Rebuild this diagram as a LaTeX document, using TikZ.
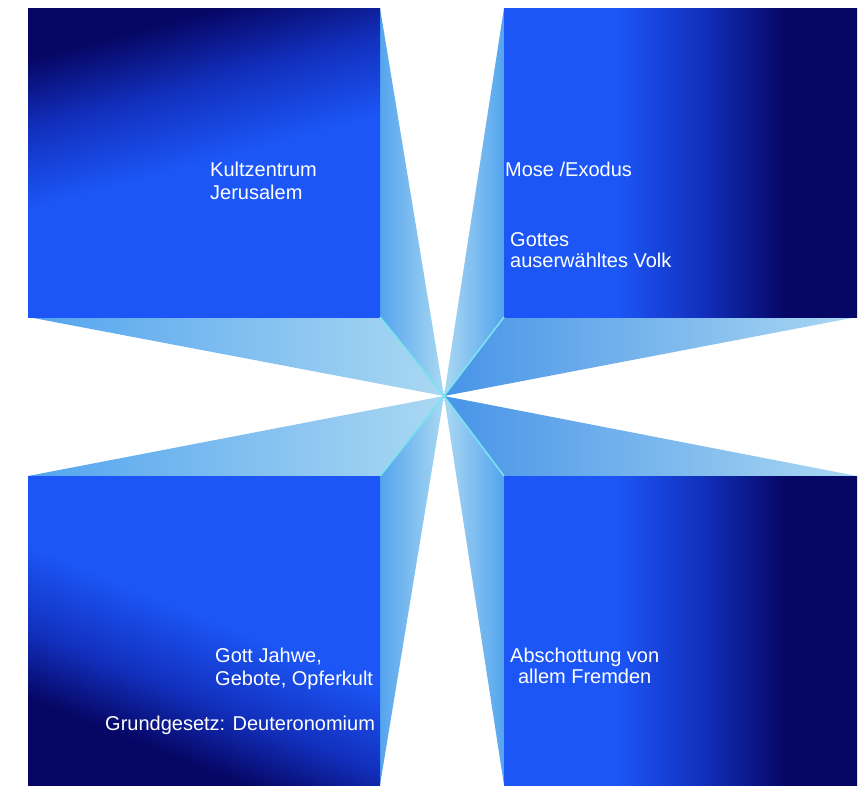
\documentclass[tikz,border=0pt]{standalone}
\usepackage{fontspec}
\setmainfont{Liberation Sans}
\definecolor{navy}{RGB}{6,6,100}
\definecolor{bright}{RGB}{28,86,246}
\definecolor{midblue}{RGB}{18,48,190}
\definecolor{medium}{RGB}{84,164,238}
\definecolor{mediumd}{RGB}{72,148,232}
\definecolor{light}{RGB}{170,216,242}
\definecolor{edgecyan}{RGB}{120,228,240}
\pgfdeclareverticalshading{tlgrad}{100bp}{color(0bp)=(bright); color(50bp)=(bright); color(62bp)=(midblue); color(73bp)=(navy); color(100bp)=(navy)}
\pgfdeclareverticalshading{blgrad}{100bp}{color(0bp)=(navy); color(30bp)=(navy); color(40bp)=(midblue); color(52bp)=(bright); color(100bp)=(bright)}
\pgfdeclarehorizontalshading{rgrad}{100bp}{color(0bp)=(bright); color(41bp)=(bright); color(53bp)=(midblue); color(65bp)=(navy); color(100bp)=(navy)}
\tikzset{
  lbl/.style={text=white, inner sep=0pt, font=\fontsize{20}{23}\selectfont},
  edgeline/.style={draw=edgecyan, line width=1.6pt},
}
\begin{document}
\begin{tikzpicture}[x=1pt, y=-1pt]
\useasboundingbox (0,0) rectangle (861,785);
\fill[white] (0,0) rectangle (861,785);
\coordinate (C) at (444,396);
% squares corners
\coordinate (tl1) at (28,8);   \coordinate (tl2) at (380,317);
\coordinate (tr1) at (504,8);  \coordinate (tr2) at (857,317);
\coordinate (bl1) at (28,476); \coordinate (bl2) at (380,785);
\coordinate (br1) at (504,476);\coordinate (br2) at (857,785);
% side faces
\shade[left color=medium, right color=light] (380,8) -- (380,317) -- (C) -- cycle;
\shade[left color=medium, right color=light] (28,317) -- (380,317) -- (C) -- cycle;
\shade[left color=light, right color=medium] (504,8) -- (504,317) -- (C) -- cycle;
\shade[left color=mediumd, right color=light] (504,317) -- (857,317) -- (C) -- cycle;
\shade[left color=medium, right color=light] (28,476) -- (380,476) -- (C) -- cycle;
\shade[left color=medium, right color=light] (380,476) -- (380,785) -- (C) -- cycle;
\shade[left color=mediumd, right color=light] (504,476) -- (857,476) -- (C) -- cycle;
\shade[left color=light, right color=medium] (504,476) -- (504,785) -- (C) -- cycle;
% front faces
\shade[shading=tlgrad, shading angle=15] (tl1) rectangle (tl2);
\shade[shading=rgrad] (tr1) rectangle (tr2);
\shade[shading=blgrad, shading angle=-22] (bl1) rectangle (bl2);
\shade[shading=rgrad] (br1) rectangle (br2);
% edges
\draw[edgeline] (380,317) -- (C);
\draw[edgeline] (504,317) -- (C);
\draw[edgeline] (380,476) -- (C);
\draw[edgeline] (504,476) -- (C);
% labels
\node[lbl, anchor=base west] (kult) at (210,176) {\begin{tabular}[t]{@{}l@{}}Kultzentrum\\Jerusalem\end{tabular}};
\node[lbl, anchor=base west] (mose) at (505,176) {Mose /Exodus};
\node[lbl, anchor=base west] (volk) at (510,246) {\fontsize{20}{21}\selectfont\begin{tabular}[t]{@{}l@{}}Gottes\\auserwähltes Volk\end{tabular}};
\node[lbl, anchor=base west] (gott) at (215,662) {\begin{tabular}[t]{@{}l@{}}Gott Jahwe,\\Gebote, Opferkult\end{tabular}};
\node[lbl, anchor=base west] (grund) at (105,730) {Grundgesetz: Deuteronomium};
\node[lbl, anchor=base west] (absch) at (510,662) {\fontsize{20}{21}\selectfont\begin{tabular}[t]{@{}c@{}}Abschottung von\\allem Fremden\end{tabular}};
\end{tikzpicture}
\end{document}
